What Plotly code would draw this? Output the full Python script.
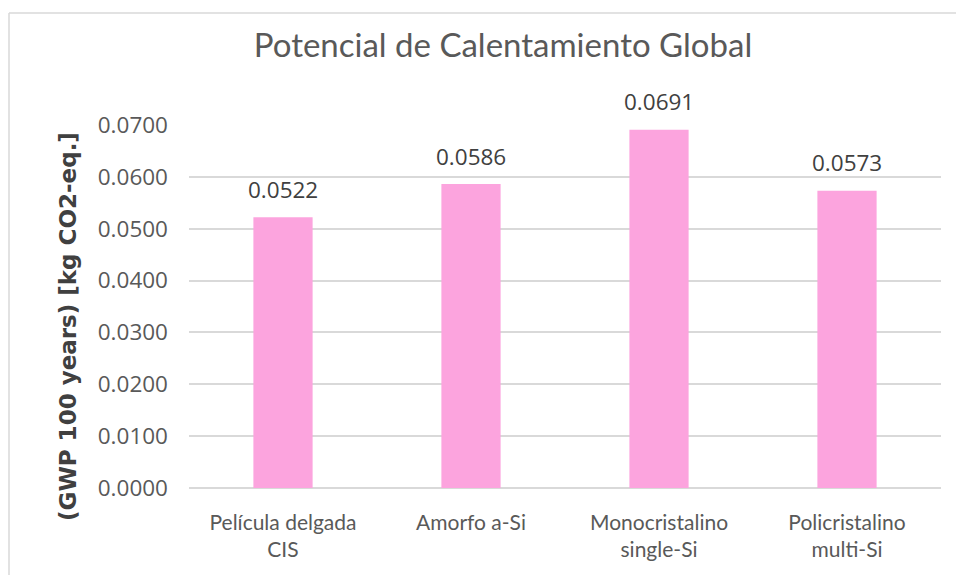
import plotly.graph_objects as go

categories = ["Película delgada<br>CIS", "Amorfo a-Si", "Monocristalino<br>single-Si", "Policristalino<br>multi-Si"]
values = [0.0522, 0.0586, 0.0691, 0.0573]
y_ticks = [0.0, 0.01, 0.02, 0.03, 0.04, 0.05, 0.06, 0.07]
title_text = "Potencial de Calentamiento Global"
y_title = "(GWP 100 years) [kg CO2-eq.]"

OFF = 8  # page body margin
W, H = 964 - OFF, 575 - OFF
L, R, T, B = 189 - OFF, 941 - OFF, 125 - OFF, 488 - OFF


def px(xp):
    return (xp - OFF - L) / (R - L)


def py(yp):
    return (B - (yp - OFF)) / (B - T)


fig = go.Figure()
fig.add_trace(go.Bar(
    x=categories, y=values,
    marker=dict(color="#FCA4DE", line=dict(width=0)),
    width=0.315,
    hoverinfo="skip",
))

for c, v in zip(categories, values):
    fig.add_annotation(x=c, y=v, text=f"{v:.4f}", showarrow=False,
                       xref="x", yref="y", yanchor="middle", yshift=28,
                       font=dict(family="Open Sans", size=22.5, color="#404040"))

fig.add_annotation(text=y_title, textangle=-90, showarrow=False,
                   xref="paper", yref="paper",
                   x=px(68), y=py(327),
                   xanchor="center", yanchor="middle",
                   font=dict(family="DejaVu Sans", size=23, color="#404040", weight="bold"))

# chart frame (top and left edges visible)
fig.add_shape(type="line", xref="paper", yref="paper",
              x0=px(9), x1=px(990), y0=py(13), y1=py(13),
              line=dict(color="#D9D9D9", width=1.5))
fig.add_shape(type="line", xref="paper", yref="paper",
              x0=px(9), x1=px(9), y0=py(600), y1=py(13),
              line=dict(color="#D9D9D9", width=1.5))

fig.update_layout(
    width=W, height=H,
    margin=dict(l=L, r=W - R, t=T, b=H - B),
    paper_bgcolor="white", plot_bgcolor="white",
    showlegend=False,
    title=dict(text=title_text, x=px(503), xref="paper", xanchor="center",
               y=1 - (45 - OFF) / H, yref="container", yanchor="middle",
               font=dict(family="Lato", size=33, color="#595959")),
    bargap=0.685,
)
fig.update_xaxes(showgrid=False, showline=False, zeroline=False, ticks="",
                 tickfont=dict(family="Lato", size=21, color="#595959"),
                 ticklabelstandoff=20)
fig.update_yaxes(range=[0, 0.07], tickvals=y_ticks, tickformat=".4f",
                 showgrid=True, gridcolor="#D9D9D9", gridwidth=1.5,
                 zeroline=True, zerolinecolor="#D9D9D9", zerolinewidth=1.5,
                 showline=False, ticks="",
                 tickfont=dict(family="Open Sans", size=22.5, color="#595959"),
                 ticklabelstandoff=20)

fig.write_html("out.html")
